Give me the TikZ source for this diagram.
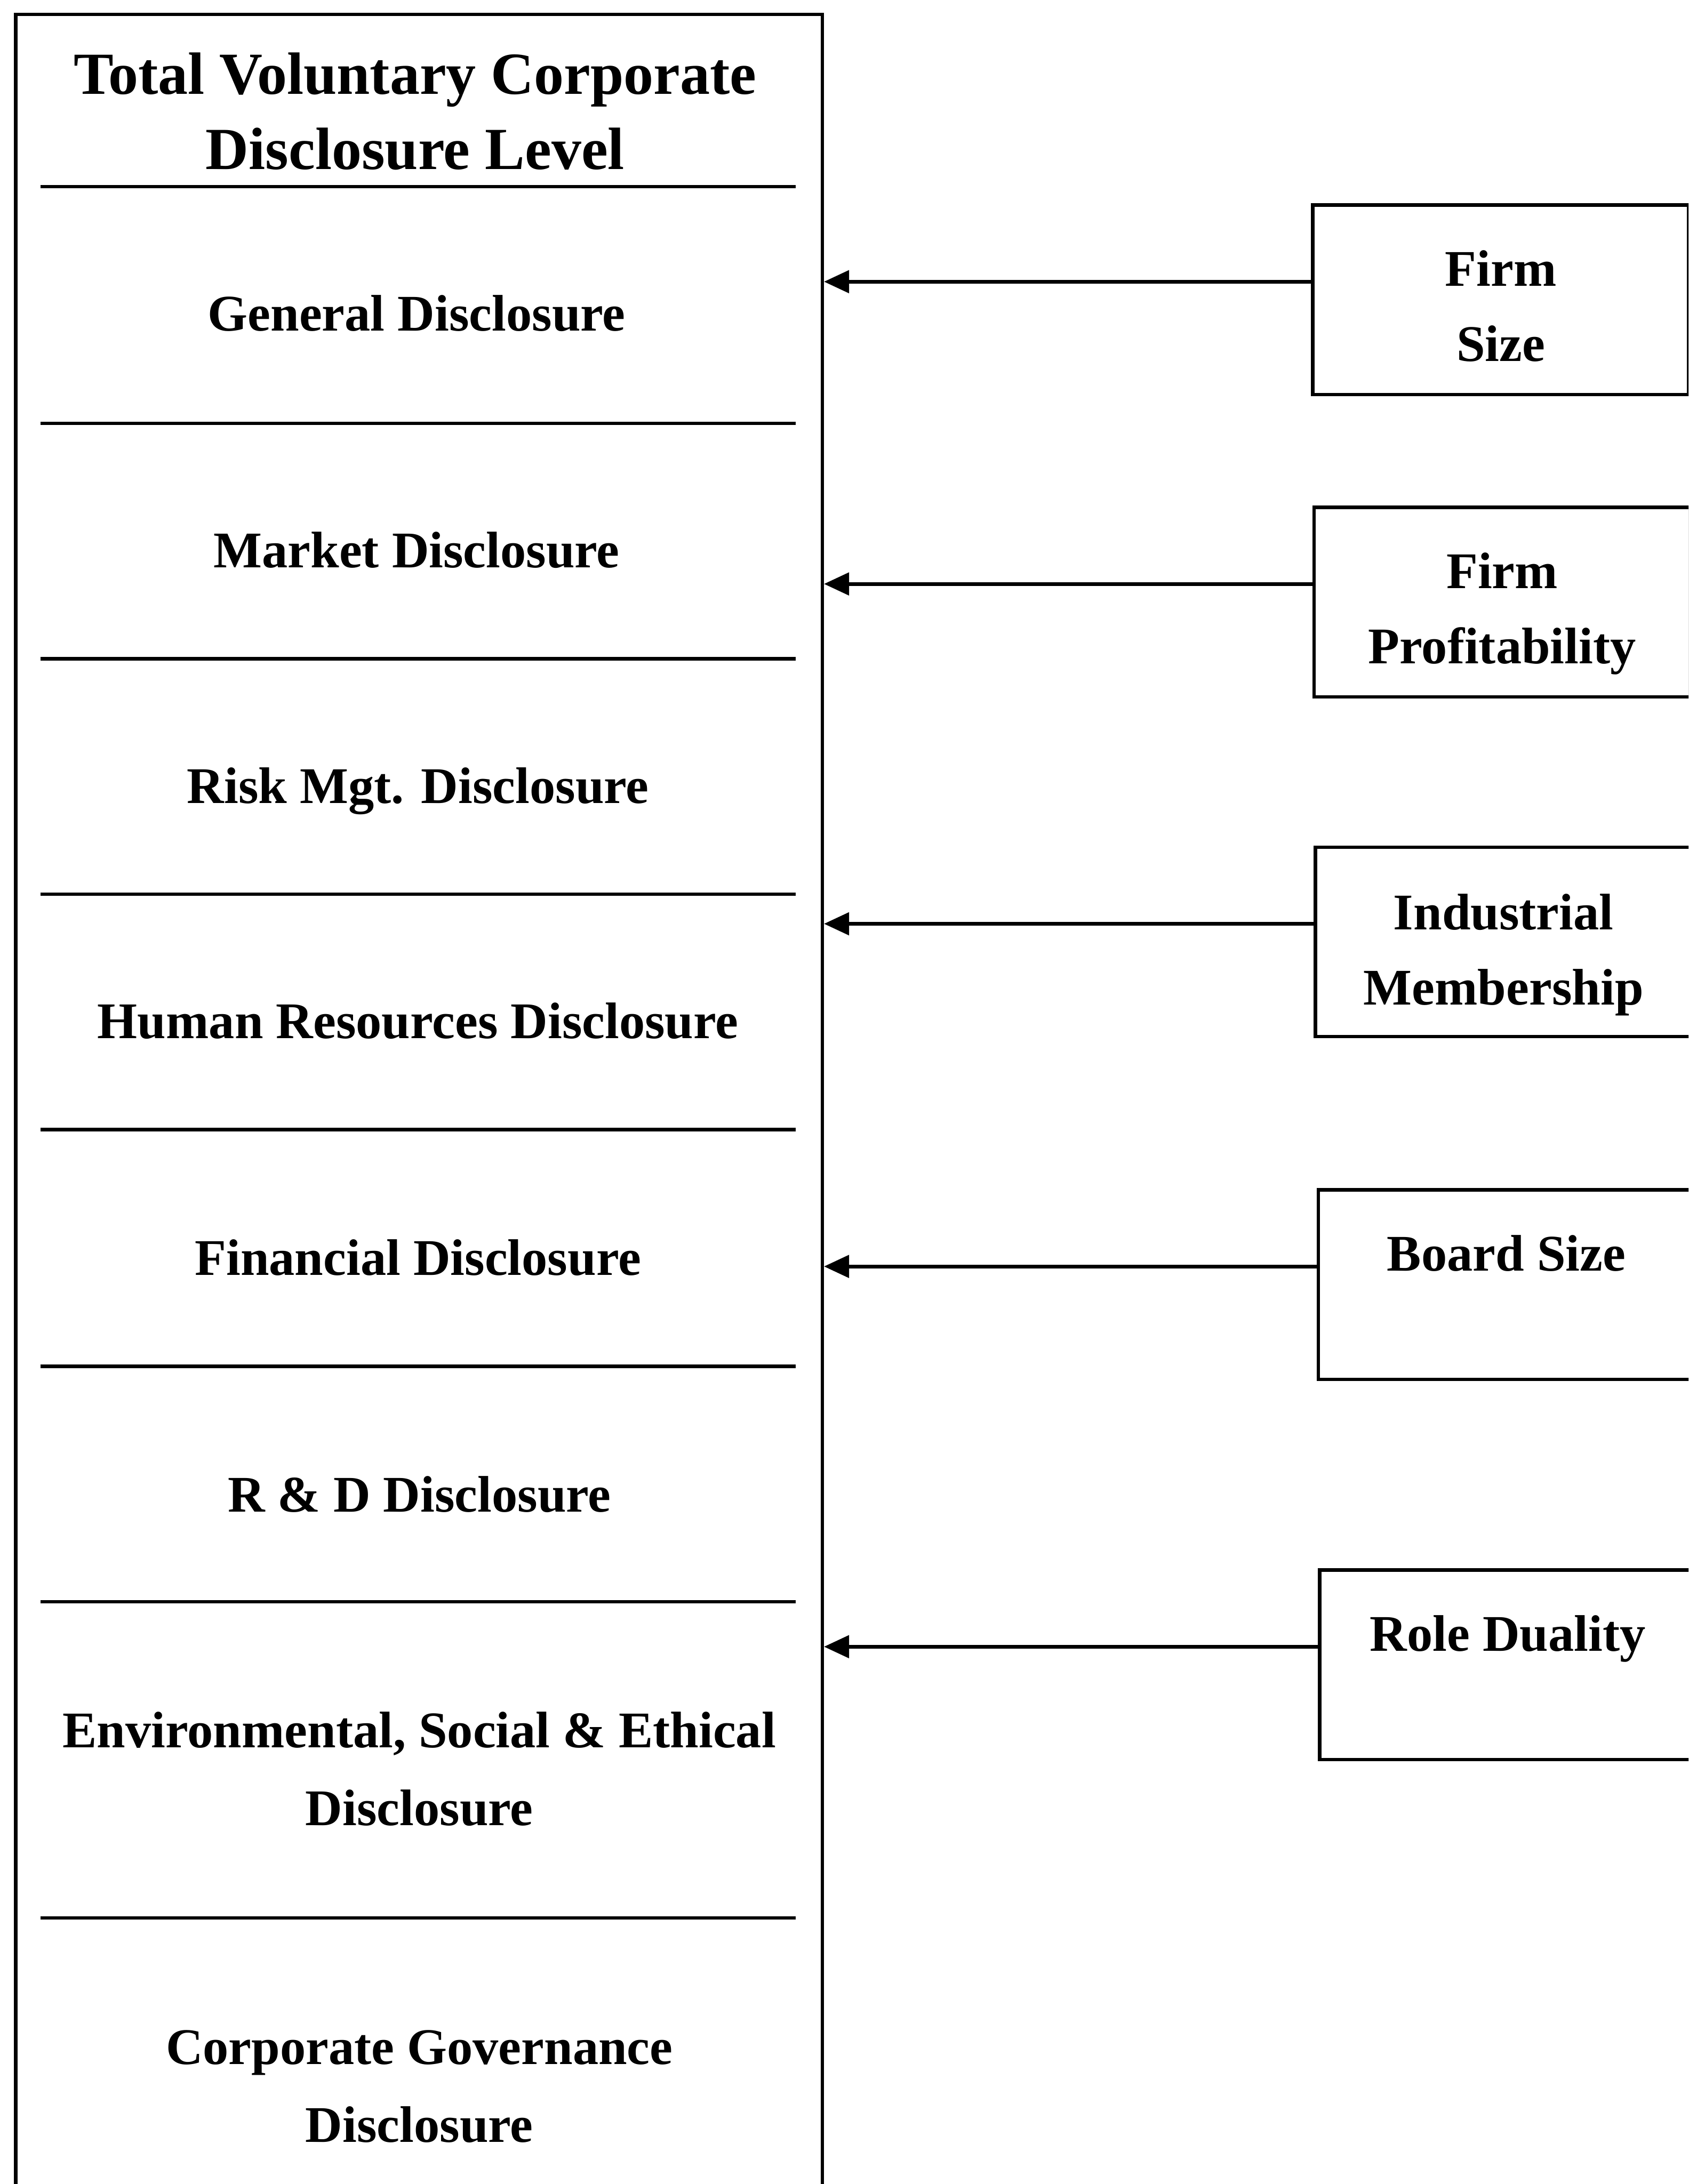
\documentclass[tikz,border=0pt]{standalone}
\usepackage{fontspec}
\setmainfont{Liberation Serif}
\usetikzlibrary{arrows.meta,positioning}

\tikzset{
  frame/.style={draw, line width=0.7pt, inner sep=0pt, anchor=north west},
  factor/.style={frame, minimum width=27mm, minimum height=13.6mm},
  head/.style={font=\bfseries\fontsize{12.2}{15.4}\selectfont, align=center},
  txt/.style={font=\bfseries\fontsize{10.5}{16}\selectfont, align=center},
  ftxt/.style={font=\bfseries\fontsize{10.5}{15.4}\selectfont, align=center, inner sep=0pt},
  arr/.style={-{Triangle[length=1.8mm,width=1.6mm]}, line width=0.75pt},
}

\begin{document}
\begin{tikzpicture}[x=1mm,y=-1mm]
  \useasboundingbox (0,0) rectangle (121.2,156.8);
  \clip (0,0) rectangle (121.2,156.8);

  % disclosure column
  \node[frame, minimum width=57.9mm, minimum height=170mm] (total) at (1.0,0.9) {};
  \foreach \y in {13.4,30.4,47.3,64.2,81.1,98.1,115.0,137.7}
    \draw[line width=0.7pt] (2.9,\y) -- (57.1,\y);

  \node[head] (tvcd) at (29.8,8.0) {Total Voluntary Corporate\\Disclosure Level};
  \node[txt] (gen) at (29.9,22.5) {General Disclosure};
  \node[txt] (mkt) at (29.9,39.5) {Market Disclosure};
  \node[txt] (risk) at (30.0,56.8) {Risk Mgt. Disclosure};
  \node[txt] (hr) at (30.0,73.3) {Human Resources Disclosure};
  \node[txt] (fin) at (30.0,90.3) {Financial Disclosure};
  \node[txt] (rd) at (30.1,107.3) {R \& D Disclosure};
  \node[txt] (ese) at (30.1,127.0) {Environmental, Social \& Ethical\\Disclosure};
  \node[txt] (cg) at (30.1,149.8) {Corporate Governance\\Disclosure};

  % determinants
  \node[factor] (fsize) at (94.1,14.6) {};
  \node[factor] (fprof) at (94.2,36.3) {};
  \node[factor] (indm) at (94.3,60.7) {};
  \node[factor] (bsize) at (94.5,85.3) {};
  \node[factor] (rdual) at (94.6,112.6) {};

  \node[ftxt, below=3.3mm of fsize.north] (fsize-t) {Firm\\Size};
  \node[ftxt, below=3.3mm of fprof.north] (fprof-t) {Firm\\Profitability};
  \node[ftxt, below=3.4mm of indm.north] (indm-t) {Industrial\\Membership};
  \node[ftxt, below=3.3mm of bsize.north] (bsize-t) {Board Size};
  \node[ftxt, below=3.3mm of rdual.north] (rdual-t) {Role Duality};

  \foreach \b in {fsize,fprof,indm,bsize,rdual}
    \draw[arr] ([yshift=1.3mm]\b.west) -- ([yshift=1.3mm]\b.west -| total.east);
\end{tikzpicture}
\end{document}
